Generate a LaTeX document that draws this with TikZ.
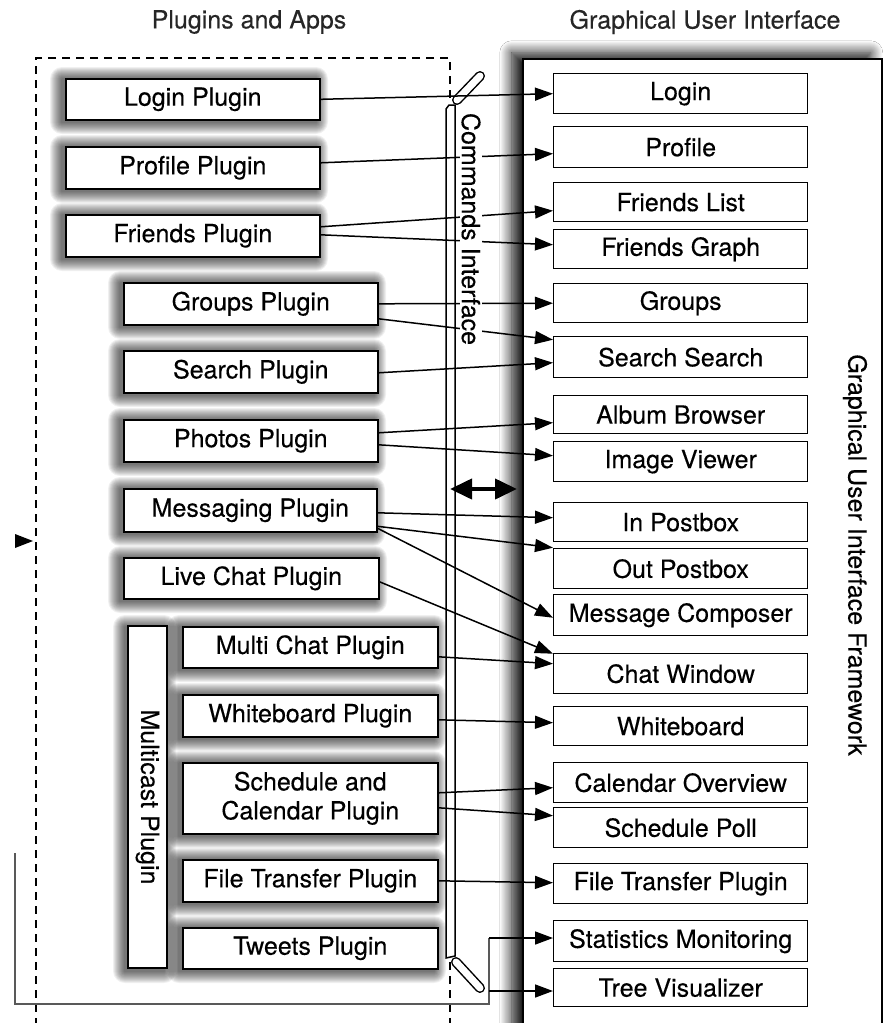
\documentclass[tikz,border=0pt]{standalone}
\usepackage{fontspec}
\setmainfont{TeX Gyre Heros}[FakeBold=0.3]
\usetikzlibrary{arrows.meta,shadows.blur,calc}
\newcommand{\softshade}[4]{%
  \foreach \k in {1,...,12}{%
    \fill[black, opacity=0.06, rounded corners=\k pt] (#1-\k-3, #2-\k+1) rectangle (#3+\k-3, #4+\k+3);%
  }%
}
\begin{document}
\begin{tikzpicture}[x=1pt,y=-1pt,
  every node/.style={font=\fontsize{25}{29}\selectfont},
  plug/.style={draw, line width=1.6pt, fill=white, inner sep=0pt, anchor=north west, align=center},
  gui/.style={draw, line width=1.4pt, fill=white, inner sep=0pt, anchor=north west, minimum width=254pt},
  conn/.style={line width=1.5pt, -{Triangle[length=18pt,width=13pt]}},
  bound/.style={line width=1.2pt, dash pattern=on 8pt off 6pt},
  loopline/.style={line width=1.5pt, black!65},
]
\useasboundingbox (0,0) rectangle (883,1023);
\clip (0,0) rectangle (883,1023);
\fill[white] (0,0) rectangle (883,1023);

% titles
\node[text=black!85] (t1) at (249,22) {Plugins and Apps};
\node[text=black!85] (t2) at (705,22) {Graphical User Interface};

% GUI framework
\node[draw, line width=1.5pt, fill=white, inner sep=0pt, anchor=north west,
  minimum width=359pt, minimum height=1000pt,
  blur shadow={shadow xshift=-11pt, shadow yshift=6pt, shadow blur radius=12pt, shadow opacity=95, shadow blur steps=16}]
  (guiframe) at (522,58) {};
\node[rotate=-90] (guit) at (855,555) {Graphical User Interface Framework};

% dashed boundary of plugins area
\draw[bound] (450,98) -- (450,58) -- (36,58) -- (36,1030);
\draw[bound] (450,962) -- (450,1030);

% soft shadows of the plugin boxes
\softshade{65}{78}{319}{119}
\softshade{65}{146}{319}{188}
\softshade{65}{214}{319}{256}
\softshade{123}{282}{377}{324}
\softshade{123}{350}{377}{392}
\softshade{123}{419}{377}{461}
\softshade{123}{488}{376}{531}
\softshade{123}{557}{378}{598}
\softshade{128}{626}{167}{968}
\softshade{182}{626}{437}{667}
\softshade{182}{694}{437}{736}
\softshade{182}{762}{437}{833}
\softshade{182}{859}{437}{901}
\softshade{182}{927}{437}{968}

% plugins
\node[plug, minimum width=254pt, minimum height=41pt] (lp) at (65,78) {Login Plugin};
\node[plug, minimum width=254pt, minimum height=42pt] (pp) at (65,146) {Profile Plugin};
\node[plug, minimum width=254pt, minimum height=42pt] (fp) at (65,214) {Friends Plugin};
\node[plug, minimum width=254pt, minimum height=42pt] (gp) at (123,282) {Groups Plugin};
\node[plug, minimum width=254pt, minimum height=42pt] (sp) at (123,350) {Search Plugin};
\node[plug, minimum width=254pt, minimum height=42pt] (php) at (123,419) {Photos Plugin};
\node[plug, minimum width=253pt, minimum height=43pt] (mp) at (123,488) {Messaging Plugin};
\node[plug, minimum width=255pt, minimum height=41pt] (lcp) at (123,557) {Live Chat Plugin};
\node[plug, anchor=center, rotate=-90, minimum width=342pt, minimum height=39pt] (mcast) at (147.5,797) {Multicast Plugin};
\node[plug, minimum width=255pt, minimum height=41pt] (mcp) at (182,626) {Multi Chat Plugin};
\node[plug, minimum width=255pt, minimum height=42pt] (wbp) at (182,694) {Whiteboard Plugin};
\node[plug, minimum width=255pt, minimum height=71pt] (scp) at (182,762) {Schedule and\\Calendar Plugin};
\node[plug, minimum width=255pt, minimum height=42pt] (ftp) at (182,859) {File Transfer Plugin};
\node[plug, minimum width=255pt, minimum height=41pt] (twp) at (182,927) {Tweets Plugin};

% commands interface bar
\draw[line width=10pt, line cap=round] (457,100) -- (480,76);
\draw[line width=7pt, white, line cap=round] (457,100) -- (480,76);
\draw[line width=10pt, line cap=round] (456,962) -- (480,988);
\draw[line width=7pt, white, line cap=round] (456,962) -- (480,988);
\draw[line width=1.5pt, fill=white] (446,958) -- (446,109) -- (449,105) -- (455,105) -- (455,956) -- cycle;
\draw[line width=1pt] (446.5,958) -- (446.5,109);

% GUI components
\node[gui, minimum height=40pt] (login) at (553,73) {Login};
\node[gui, minimum height=41pt] (profile) at (553,126) {Profile};
\node[gui, minimum height=39pt] (flist) at (553,182) {Friends List};
\node[gui, minimum height=39pt] (fgraph) at (553,229) {Friends Graph};
\node[gui, minimum height=39pt] (groups) at (553,283) {Groups};
\node[gui, minimum height=41pt] (search) at (553,336) {Search Search};
\node[gui, minimum height=38pt] (album) at (553,395) {Album Browser};
\node[gui, minimum height=40pt] (image) at (553,441) {Image Viewer};
\node[gui, minimum height=39pt] (inpb) at (553,502) {In Postbox};
\node[gui, minimum height=40pt] (outpb) at (553,548) {Out Postbox};
\node[gui, minimum height=41pt] (composer) at (553,594) {Message Composer};
\node[gui, minimum height=40pt] (chat) at (553,653) {Chat Window};
\node[gui, minimum height=39pt] (wb) at (553,706) {Whiteboard};
\node[gui, minimum height=40pt] (calov) at (553,762) {Calendar Overview};
\node[gui, minimum height=40pt] (poll) at (553,807) {Schedule Poll};
\node[gui, minimum height=40pt] (ftgui) at (553,863) {File Transfer Plugin};
\node[gui, minimum height=41pt] (stat) at (553,920) {Statistics Monitoring};
\node[gui, minimum height=38pt] (tree) at (553,968) {Tree Visualizer};

% connectors
\draw[conn] (lp.east) -- (login.west);
\draw[conn] ([yshift=5pt]pp.east) -- ([yshift=-6.5pt]profile.west);
\draw[conn] ([yshift=9pt]fp.east) -- ([yshift=-8.5pt]flist.west);
\draw[conn] ([yshift=1pt]fp.east) -- ([yshift=4.5pt]fgraph.west);
\draw[conn] (gp.east) -- (groups.west);
\draw[conn] ([yshift=-15pt]gp.east) -- ([yshift=17.5pt]search.west);
\draw[conn] ([yshift=-1pt]sp.east) -- ([yshift=-5.5pt]search.west);
\draw[conn] ([yshift=8pt]php.east) -- ([yshift=-8pt]album.west);
\draw[conn] ([yshift=-4pt]php.east) -- ([yshift=6pt]image.west);
\draw[conn] ([yshift=-2.5pt]mp.east) -- ([yshift=4.5pt]inpb.west);
\draw[conn] ([yshift=-16pt]mp.east) -- ([yshift=21pt]outpb.west);
\draw[conn] ([yshift=-18pt]mp.east) -- ([yshift=-2.5pt]composer.west);
\draw[conn] ([yshift=-3.5pt]lcp.east) -- ([yshift=20pt]chat.west);
\draw[conn] ([yshift=-9.5pt]mcp.east) -- ([yshift=10pt]chat.west);
\draw[conn] ([yshift=-4pt]wbp.east) -- ([yshift=3.5pt]wb.west);
\draw[conn] ([yshift=5.5pt]scp.east) -- ([yshift=-5pt]calov.west);
\draw[conn] ([yshift=-9.5pt]scp.east) -- ([yshift=12pt]poll.west);
\draw[conn] (ftp.east) -- ([yshift=1pt]ftgui.west);

% monitoring loop
\coordinate (s1) at (489,938);
\coordinate (t1c) at (489,991);
\coordinate (lb) at (15,853);
\draw[loopline] (lb) -- (15,1004) -- (489,1004) -- (s1);
\draw[conn] (s1) -- (s1 -| stat.west);
\draw[conn] (t1c) -- (t1c -| tree.west);

% commands interface label
\node[rotate=-90, fill=white, inner sep=1pt] (ci) at (471,229) {Commands Interface};

% bidirectional arrow
\coordinate (da1) at (450,489);
\coordinate (da2) at (517,489);
\draw[line width=4pt, {Triangle[length=22pt,width=20pt]}-{Triangle[length=22pt,width=20pt]}] (da1) -- (da2);

% lone arrowhead at left
\fill (15,534) -- (33,541) -- (15,548) -- cycle;
\end{tikzpicture}
\end{document}
